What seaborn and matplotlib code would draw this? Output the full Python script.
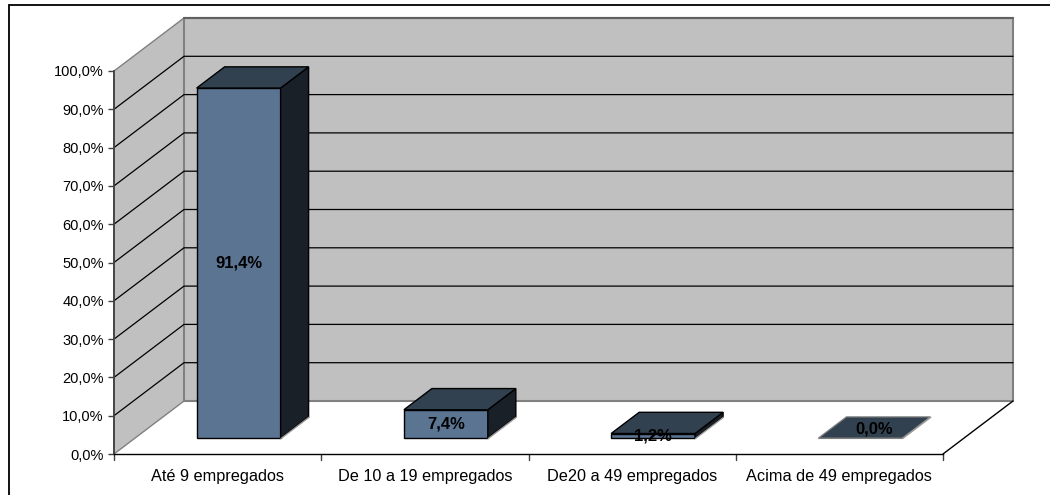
import matplotlib
matplotlib.use("Agg")
import matplotlib.pyplot as plt
from matplotlib.lines import Line2D
from matplotlib.patches import Polygon
import numpy as np
import pandas as pd
import seaborn as sns

categories = ["Até 9 empregados", "De 10 a 19 empregados", "De20 a 49 empregados", "Acima de 49 empregados"]
values = [91.4, 7.4, 1.2, 0.0]
labels = ["91,4%", "7,4%", "1,2%", "0,0%"]
ticks = [0, 10, 20, 30, 40, 50, 60, 70, 80, 90, 100]
tick_labels = ["0,0%", "10,0%", "20,0%", "30,0%", "40,0%", "50,0%", "60,0%", "70,0%", "80,0%", "90,0%", "100,0%"]

W, H = 1050, 495
LEFT, RIGHT, TOP, BOTTOM = 114, 943, 71, 454
DEPTH_PX = (70, 53)
BAR_Z = (0.3, 0.7)
BAR_WIDTH = 0.405

WALL = "#C0C0C0"
FRONT = "#5A7492"
TOP_FACE = "#32414F"
SIDE = "#1A2028"
EDGE_GREY = "#808080"
AXIS_DARK = "#404040"

sns.set_theme(style="white")
plt.rcParams["font.family"] = ["Liberation Sans", "DejaVu Sans"]

fig = plt.figure(figsize=(W / 100, H / 100), dpi=100, facecolor="white")
ax = fig.add_axes([LEFT / W, 1 - BOTTOM / H, (RIGHT - LEFT) / W, (BOTTOM - TOP) / H])
df = pd.DataFrame({"categoria": categories, "valor": values})
sns.barplot(data=df, x="categoria", y="valor", width=BAR_WIDTH, color=FRONT, saturation=1,
            edgecolor="black", linewidth=1.0, ax=ax, zorder=5)

ax.set_xlim(-0.5, len(categories) - 0.5)
ax.set_ylim(0, 100)

# one unit of depth expressed in data units of the front plane
dx_unit = DEPTH_PX[0] / ((RIGHT - LEFT) / len(categories))
dy_unit = DEPTH_PX[1] / ((BOTTOM - TOP) / 100)


def project(x, y, z):
    return (x + dx_unit * z, y + dy_unit * z)


def face(points, z=1, **kw):
    kw.setdefault("clip_on", False)
    ax.add_patch(Polygon(points, closed=True, zorder=z, **kw))


def segment(p, q, **kw):
    kw.setdefault("clip_on", False)
    ax.plot([p[0], q[0]], [p[1], q[1]], **kw)


x0, x1 = ax.get_xlim()

# side wall and back wall
face([project(x0, 0, 0), project(x0, 0, 1), project(x0, 100, 1), project(x0, 100, 0)],
     facecolor=WALL, edgecolor=EDGE_GREY, linewidth=1.0)
face([project(x0, 0, 1), project(x1, 0, 1), project(x1, 100, 1), project(x0, 100, 1)],
     facecolor=WALL, edgecolor=EDGE_GREY, linewidth=1.5)

# gridlines wrap round the side wall and across the back wall
for t in ticks[1:-1]:
    ax.plot(*zip(project(x0, t, 0), project(x0, t, 1), project(x1, t, 1)),
            color="black", lw=0.9, clip_on=False, zorder=2)
segment(project(x0, 100, 1), project(x1, 100, 1), color="#606060", lw=1.5, zorder=2)

# floor edge on the right
segment(project(x1, 0, 0), project(x1, 0, 1), color="black", lw=1.0, zorder=3)

# extrude each seaborn bar into a box
shift_x, shift_y = project(0, 0, BAR_Z[0])
dxb = dx_unit * (BAR_Z[1] - BAR_Z[0])
dyb = dy_unit * (BAR_Z[1] - BAR_Z[0])
for bar, val, text, cx in zip(ax.patches, values, labels, range(len(values))):
    left = bar.get_x() + shift_x
    right = left + bar.get_width()
    bar.set_x(left)
    bar.set_y(shift_y)
    bar.set_clip_on(False)
    base, top = shift_y, shift_y + val
    if val > 0:
        face([(right, base), (right + dxb, base + dyb), (right + dxb, top + dyb), (right, top)],
             z=6, facecolor=SIDE, edgecolor="black", linewidth=1.0)
        face([(left, top), (right, top), (right + dxb, top + dyb), (left + dxb, top + dyb)],
             z=6, facecolor=TOP_FACE, edgecolor="black", linewidth=1.0)
        label_x, label_y = cx + shift_x, (base + top) / 2
    else:
        bar.set_edgecolor(EDGE_GREY)
        bar.set_linewidth(0.8)
        face([(left, top), (right, top), (right + dxb, top + dyb), (left + dxb, top + dyb)],
             z=6, facecolor=TOP_FACE, edgecolor=EDGE_GREY, linewidth=0.9)
        label_x, label_y = cx + shift_x + dxb / 2, top + dyb / 2 - 0.4
    # lower edge of the side face catches the light
    segment((right + 0.002, base - 0.1), (right + dxb + 0.002, base + dyb - 0.1),
            color="#9A9A9A", lw=1.0, zorder=7)
    ax.text(label_x, label_y, text, ha="center", va="center", fontsize=12, fontweight="bold",
            color="black", zorder=8)

ax.set_xlabel("")
ax.set_ylabel("")
ax.set_yticks(ticks)
ax.set_yticklabels(tick_labels, fontsize=10.5, color="black")
ax.set_xticks(np.arange(len(categories)))
ax.set_xticklabels(categories, fontsize=11.7, color="black")
ax.tick_params(axis="x", length=0, pad=11)
ax.tick_params(axis="y", length=4.3, width=1, color=AXIS_DARK, pad=3, left=True)

# category separators sit between the labels
for b in np.arange(x0, x1 + 0.01):
    ax.plot([b, b], [0, -1.5], color=AXIS_DARK, lw=1, clip_on=False, zorder=4)

for side in ("top", "right"):
    ax.spines[side].set_visible(False)
ax.spines["left"].set_color(AXIS_DARK)
ax.spines["left"].set_linewidth(1.3)
ax.spines["bottom"].set_color("black")
ax.spines["bottom"].set_linewidth(1.0)
ax.spines["left"].set_zorder(4)
ax.spines["bottom"].set_zorder(4)
ax.patch.set_alpha(0)

# chart frame: only its top and left edges fall inside the figure
fx, fy = 8.5 / W, 1 - 4.5 / H
fig.add_artist(Line2D([fx, 1], [fy, fy], transform=fig.transFigure, color="black", lw=1.3))
fig.add_artist(Line2D([fx, fx], [0, fy], transform=fig.transFigure, color="black", lw=1.3))

fig.savefig("out.png", dpi=100)
